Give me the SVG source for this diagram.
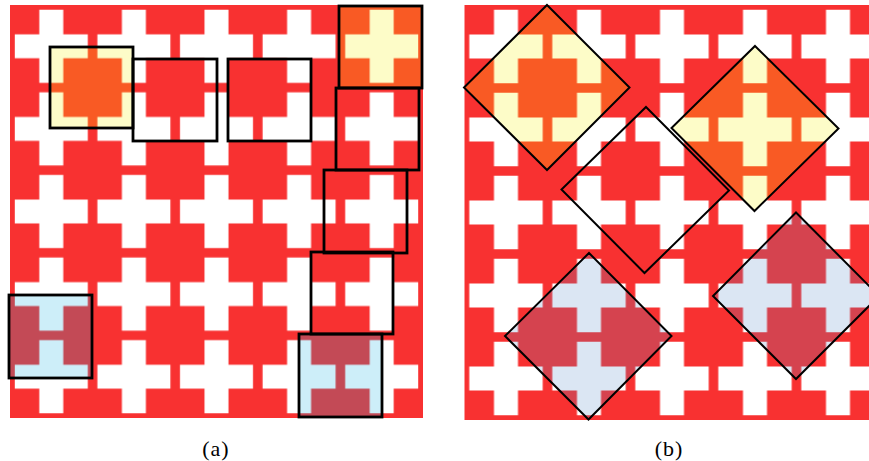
<svg xmlns="http://www.w3.org/2000/svg" xmlns:xlink="http://www.w3.org/1999/xlink" width="869" height="461" viewBox="0 0 869 461">
<style>
.box{fill:none;stroke:#000;stroke-width:2.8}
.dia{stroke:#000;stroke-width:2;stroke-linejoin:miter}
</style>
<defs>
<path id="crossA" d="M4.8,29.3H29.3V4.8H53.3V29.3H77.8V53.3H53.3V77.8H29.3V53.3H4.8Z"/>
<path id="crossB" d="M4.8,29.5H29.5V4.8H53.5V29.5H78.2V53.5H53.5V78.2H29.5V53.5H4.8Z"/>
<pattern id="pA" patternUnits="userSpaceOnUse" x="10" y="5" width="82.6" height="82.6">
<rect width="82.6" height="82.6" fill="#f83131"/><use xlink:href="#crossA" fill="#ffffff"/>
</pattern>
<pattern id="pAY" patternUnits="userSpaceOnUse" x="10" y="5" width="82.6" height="82.6">
<rect width="82.6" height="82.6" fill="#f95a24"/><use xlink:href="#crossA" fill="#fdfcc8"/>
</pattern>
<pattern id="pAB" patternUnits="userSpaceOnUse" x="10" y="5" width="82.6" height="82.6">
<rect width="82.6" height="82.6" fill="#c34a56"/><use xlink:href="#crossA" fill="#cdeef9"/>
</pattern>
<pattern id="pB" patternUnits="userSpaceOnUse" x="464.5" y="5" width="83" height="83">
<rect width="83" height="83" fill="#f83131"/><use xlink:href="#crossB" fill="#ffffff"/>
</pattern>
<pattern id="pBY" patternUnits="userSpaceOnUse" x="464.5" y="5" width="83" height="83">
<rect width="83" height="83" fill="#f95a24"/><use xlink:href="#crossB" fill="#fdfcc8"/>
</pattern>
<pattern id="pBB" patternUnits="userSpaceOnUse" x="464.5" y="5" width="83" height="83">
<rect width="83" height="83" fill="#d5434f"/><use xlink:href="#crossB" fill="#dbe6f3"/>
</pattern>
</defs>
<rect width="869" height="461" fill="#ffffff"/>
<g id="panel-a">
<rect x="10" y="5" width="413" height="413" fill="url(#pA)"/>
<g id="a-box-yellow"><rect x="50" y="47" width="83" height="81" fill="url(#pAY)"/></g>
<g id="a-box-orange"><rect x="339" y="6" width="83" height="82" fill="url(#pAY)"/></g>
<g id="a-box-blue-right"><rect x="299" y="334" width="83" height="83" fill="url(#pAB)"/></g>
<g id="a-box-blue-left"><rect x="9" y="295" width="83" height="83" fill="url(#pAB)"/></g>
<g id="a-outlines">
<rect class="box" x="133" y="59" width="84" height="82"/>
<rect class="box" x="228" y="59" width="83" height="82"/>
<rect class="box" x="336" y="88" width="83" height="82"/>
<rect class="box" x="324" y="170" width="83" height="83"/>
<rect class="box" x="311" y="252" width="82" height="82"/>
<rect class="box" x="50" y="47" width="83" height="81"/>
<rect class="box" x="339" y="6" width="83" height="82"/>
<rect class="box" x="299" y="334" width="83" height="83"/>
<rect class="box" x="9" y="295" width="83" height="83"/>
</g>
<text x="216" y="456" font-family="'Liberation Serif', 'DejaVu Serif', serif" font-size="22" letter-spacing="1" text-anchor="middle" fill="#000">(a)</text>
</g>
<g id="panel-b">
<rect x="464.5" y="5" width="415" height="415" fill="url(#pB)"/>
<g id="b-dia-1"><polygon class="dia" points="547,5 629.5,87.5 547,170 464,87.5" fill="url(#pBY)"/></g>
<g id="b-dia-2"><polygon class="dia" points="755,46 838.5,128.5 754.5,211 671.5,128" fill="url(#pBY)"/></g>
<g id="b-dia-3"><polygon class="dia" points="646,107 729,190.5 644.5,273 561.5,189.5" fill="none"/></g>
<g id="b-dia-4"><polygon class="dia" points="589,253 671.5,336 588.5,419.5 505,336" fill="url(#pBB)"/></g>
<g id="b-dia-5"><polygon class="dia" points="796,212.5 879,296 796,379 713,296" fill="url(#pBB)"/></g>
<text x="669" y="456" font-family="'Liberation Serif', 'DejaVu Serif', serif" font-size="22" letter-spacing="1" text-anchor="middle" fill="#000">(b)</text>
</g>
</svg>
